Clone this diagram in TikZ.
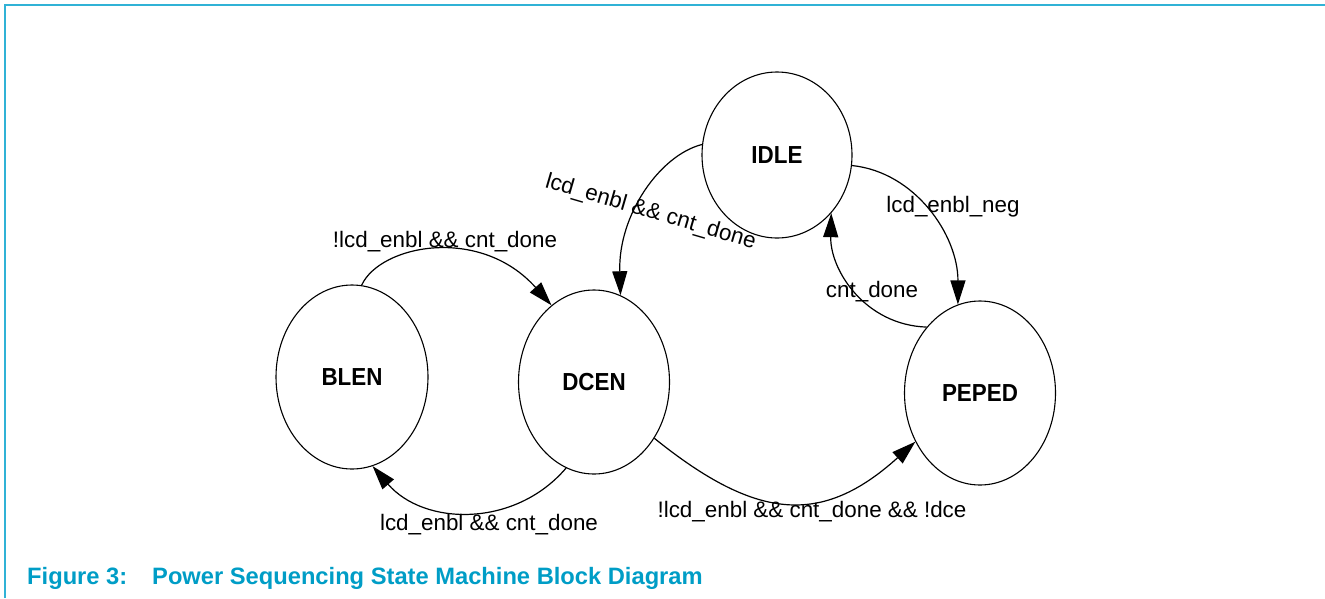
\documentclass[tikz,border=0pt]{standalone}
\usepackage{fontspec}
\setmainfont{Liberation Sans}
\usetikzlibrary{shapes.geometric,arrows.meta}
\definecolor{capblue}{RGB}{0,157,198}
\definecolor{frameblue}{RGB}{48,178,214}
\begin{document}
\begin{tikzpicture}[x=1pt,y=-1pt,
  state/.style={ellipse,draw,line width=1.1pt,inner sep=0pt,
    font=\fontsize{22.4}{26}\selectfont\bfseries},
  trans/.style={line width=1.2pt,-{Triangle[length=24pt,width=15pt]}},
  lbl/.style={font=\fontsize{22.4}{26}\selectfont,anchor=base,inner sep=0pt},
  captext/.style={anchor=base west,inner sep=0pt,text=capblue,
    font=\fontsize{23.7}{28}\selectfont\bfseries},
]
\useasboundingbox (0,0) rectangle (1325,598);
\draw[frameblue,line width=2pt] (5,598) -- (5,5) -- (1325,5);

% states
\node[state,minimum width=150pt,minimum height=166pt] (IDLE) at (777,155) {\scalebox{1}[1.1]{IDLE}};
\node[state,minimum width=152pt,minimum height=184pt] (BLEN) at (352,377) {\scalebox{1}[1.1]{BLEN}};
\node[state,minimum width=151pt,minimum height=184pt] (DCEN) at (594,382) {\scalebox{1}[1.1]{DCEN}};
\node[state,minimum width=151pt,minimum height=184pt] (PEPED) at (980,393) {\scalebox{1}[1.1]{PEPED}};

% transitions
\draw[trans] (IDLE.172) .. controls (660,155) and (618,215) .. (DCEN.73);
\draw[trans] (IDLE.-8) .. controls (915,172) and (958,235) .. (PEPED.104);
\draw[trans] (PEPED.129) .. controls (865,325) and (830,270) .. (IDLE.-47);
\draw[trans] (BLEN.84) .. controls (380,245) and (480,225) .. (DCEN.119);
\draw[trans] (DCEN.-108) .. controls (515,528) and (424,526) .. (BLEN.-77);
\draw[trans] (DCEN.-43) .. controls (757,521) and (822,526) .. (PEPED.217);

% labels
\node[lbl,rotate=-16.3] (l1) at (649,218) {lcd\_enbl \&\& cnt\_done};
\node[lbl] (l2) at (953,212) {lcd\_enbl\_neg};
\node[lbl] (l3) at (872,297) {cnt\_done};
\node[lbl] (l4) at (445,247) {!lcd\_enbl \&\& cnt\_done};
\node[lbl] (l5) at (489,530) {lcd\_enbl \&\& cnt\_done};
\node[lbl] (l6) at (812,517) {!lcd\_enbl \&\& cnt\_done \&\& !dce};

% caption
\node[captext] (fignum) at (27,584) {Figure 3:};
\node[captext] (figtitle) at (152,584) {Power Sequencing State Machine Block Diagram};
\end{tikzpicture}
\end{document}
